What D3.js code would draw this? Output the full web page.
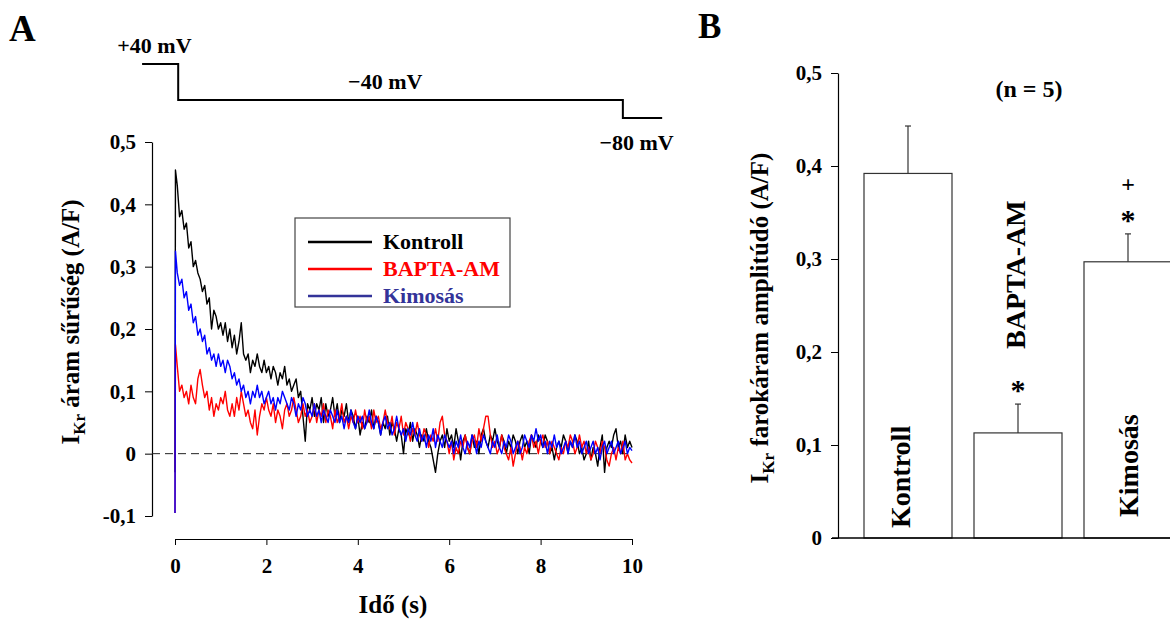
<!DOCTYPE html>
<html>
<head>
<meta charset="utf-8">
<script src="https://cdn.jsdelivr.net/npm/d3@7"></script>
<style>
  body { margin: 0; background: #fff; }
  text { font-family: "Liberation Serif", "Times New Roman", serif; font-weight: bold; }
</style>
</head>
<body>
<div id="chart"></div>
<script>
// ---- panel A : tail current traces (A/F), sampled every 0.05 s from 0.05 s to 10 s
const seriesNames = ["Kontroll", "BAPTA-AM", "Kimosás"];

// capacitive spike at t = 0 : minimum and first peak
const spikeMin = [-0.03, -0.095, -0.095];
const spikePeak = [0.455, 0.175, 0.325];

const kontroll = [
  0.43, 0.38, 0.39, 0.36, 0.37, 0.33, 0.34, 0.30, 0.31, 0.29, 0.28, 0.26, 0.27, 0.24, 0.25, 0.20, 0.23, 0.22, 0.20, 0.21,
  0.19, 0.21, 0.18, 0.20, 0.17, 0.19, 0.16, 0.18, 0.21, 0.16, 0.15, 0.16, 0.13, 0.15, 0.14, 0.16, 0.14, 0.13, 0.15, 0.13,
  0.14, 0.12, 0.14, 0.13, 0.11, 0.13, 0.12, 0.14, 0.11, 0.12, 0.10, 0.11, 0.12, 0.09, 0.10, 0.06, 0.02, 0.08, 0.07, 0.09,
  0.06, 0.08, 0.07, 0.09, 0.05, 0.08, 0.06, 0.07, 0.09, 0.06, 0.08, 0.05, 0.07, 0.06, 0.08, 0.05, 0.07, 0.06, 0.04, 0.06,
  0.03, 0.05, 0.04, 0.06, 0.05, 0.07, 0.04, 0.06, 0.05, 0.03, 0.05, 0.04, 0.06, 0.03, 0.05, 0.04, 0.02, 0.04, 0.03, 0.00,
  0.04, 0.03, 0.05, 0.02, 0.04, 0.03, 0.01, 0.03, 0.02, 0.04, 0.02, 0.01, -0.01, -0.03, 0.00, 0.02, 0.03, 0.01, 0.04, 0.02,
  0.03, 0.01, 0.04, 0.02, -0.01, 0.02, 0.03, 0.01, 0.00, 0.03, 0.01, 0.02, 0.00, 0.03, 0.04, 0.02, 0.01, 0.03, 0.02, 0.04,
  0.02, 0.01, 0.03, 0.02, 0.00, 0.02, 0.01, 0.03, 0.02, 0.00, 0.02, 0.03, 0.01, 0.02, 0.00, 0.03, 0.02, 0.01, 0.03, 0.02,
  0.01, 0.03, 0.02, 0.00, 0.01, -0.01, 0.01, 0.02, 0.01, 0.03, 0.02, 0.00, 0.02, 0.01, 0.03, 0.02, 0.00, 0.01, -0.01, 0.00,
  0.02, -0.01, 0.01, 0.00, -0.02, 0.01, 0.03, -0.03, 0.01, 0.02, 0.01, 0.03, 0.04, 0.01, 0.02, 0.00, 0.03, 0.01, 0.02, 0.01
];

const bapta = [
  0.14, 0.10, 0.11, 0.09, 0.10, 0.08, 0.11, 0.09, 0.08, 0.12, 0.135, 0.11, 0.09, 0.10, 0.07, 0.09, 0.06, 0.08, 0.07, 0.09,
  0.08, 0.10, 0.07, 0.06, 0.08, 0.06, 0.09, 0.07, 0.10, 0.08, 0.06, 0.07, 0.05, 0.04, 0.07, 0.03, 0.06, 0.08, 0.07, 0.09,
  0.07, 0.06, 0.08, 0.05, 0.07, 0.06, 0.04, 0.07, 0.08, 0.06, 0.07, 0.09, 0.07, 0.05, 0.06, 0.08, 0.06, 0.07, 0.05, 0.06,
  0.08, 0.05, 0.07, 0.06, 0.08, 0.05, 0.07, 0.06, 0.04, 0.07, 0.05, 0.06, 0.08, 0.05, 0.06, 0.04, 0.06, 0.05, 0.07, 0.05,
  0.06, 0.04, 0.07, 0.05, 0.06, 0.04, 0.07, 0.05, 0.06, 0.04, 0.05, 0.07, 0.05, 0.04, 0.06, 0.03, 0.05, 0.04, 0.06, 0.03,
  0.05, 0.04, 0.02, 0.04, 0.03, 0.05, 0.03, 0.02, 0.04, 0.03, 0.01, 0.03, 0.02, 0.04, 0.02, 0.05, 0.06, 0.03, 0.02, 0.00,
  0.02, -0.01, 0.01, 0.00, 0.02, 0.01, 0.03, 0.01, 0.00, 0.02, 0.03, 0.01, 0.04, 0.02, 0.04, 0.06, 0.06, 0.03, 0.01, 0.02,
  0.00, 0.01, 0.03, 0.01, 0.00, -0.01, 0.01, -0.02, 0.00, 0.02, 0.01, -0.01, 0.01, 0.00, 0.02, 0.03, 0.01, 0.02, 0.00, 0.02,
  0.03, 0.01, 0.02, 0.00, 0.02, 0.01, 0.00, -0.01, 0.01, 0.00, 0.02, 0.01, 0.03, 0.02, 0.00, 0.01, 0.03, 0.01, 0.02, 0.00,
  0.01, -0.01, 0.00, 0.02, 0.01, 0.00, 0.02, 0.01, -0.01, -0.02, 0.00, 0.01, -0.01, 0.01, 0.00, 0.02, -0.01, 0.00, -0.01, -0.015
];

const kimosas = [
  0.29, 0.27, 0.28, 0.25, 0.26, 0.23, 0.24, 0.21, 0.22, 0.19, 0.20, 0.18, 0.19, 0.16, 0.17, 0.15, 0.16, 0.14, 0.16, 0.14,
  0.15, 0.13, 0.15, 0.14, 0.12, 0.13, 0.11, 0.12, 0.10, 0.11, 0.09, 0.10, 0.08, 0.10, 0.09, 0.11, 0.09, 0.10, 0.08, 0.09,
  0.10, 0.08, 0.09, 0.07, 0.09, 0.08, 0.10, 0.09, 0.08, 0.07, 0.09, 0.08, 0.06, 0.08, 0.07, 0.09, 0.08, 0.06, 0.07, 0.06,
  0.08, 0.06, 0.07, 0.05, 0.07, 0.06, 0.05, 0.07, 0.06, 0.05, 0.07, 0.05, 0.06, 0.04, 0.06, 0.05, 0.07, 0.05, 0.04, 0.06,
  0.05, 0.06, 0.04, 0.05, 0.07, 0.05, 0.04, 0.06, 0.05, 0.03, 0.05, 0.06, 0.04, 0.05, 0.03, 0.04, 0.06, 0.04, 0.03, 0.04,
  0.02, 0.04, 0.03, 0.05, 0.03, 0.02, 0.04, 0.02, 0.03, 0.01, 0.03, 0.02, 0.04, 0.01, 0.03, 0.02, 0.01, 0.03, 0.02, 0.01,
  0.02, 0.00, 0.02, 0.01, 0.03, 0.01, 0.00, 0.02, 0.01, 0.03, 0.02, 0.00, 0.02, 0.01, 0.03, 0.02, 0.01, 0.00, 0.02, 0.01,
  0.03, 0.01, 0.00, 0.02, 0.01, 0.03, 0.02, 0.00, 0.01, 0.02, 0.00, 0.01, 0.03, 0.02, 0.01, 0.03, 0.02, 0.04, 0.02, 0.03,
  0.01, 0.02, 0.00, 0.02, 0.01, 0.03, 0.01, 0.02, 0.00, 0.01, 0.02, 0.00, 0.02, 0.01, 0.03, 0.01, 0.02, 0.00, 0.01, 0.02,
  0.00, 0.01, 0.02, 0.00, 0.01, -0.01, 0.01, 0.02, 0.00, 0.01, 0.02, 0.00, 0.01, 0.02, 0.00, 0.01, 0.02, 0.00, 0.01, 0.005
];

const traceColors = ["#000000", "#ff0000", "#0000ff"];
const legendColors = ["#000000", "#ff0000", "#333399"];

// voltage protocol (s, mV)
const protocolT = [-0.72, 0.07, 9.8, 10.66];
const protocolV = [40, -40, -80];
const protocolLabels = ["+40 mV", "\u221240 mV", "\u221280 mV"];

const yTicksA = [-0.1, 0, 0.1, 0.2, 0.3, 0.4, 0.5];
const xTicksA = [0, 2, 4, 6, 8, 10];

// ---- panel B : tail current amplitude (A/F), mean and SEM
const groups = ["Kontroll", "BAPTA-AM", "Kimosás"];
const means = [0.392, 0.113, 0.297];
const sems = [0.051, 0.031, 0.030];
const marks = [[], ["*"], ["*", "+"]];
const yTicksB = [0, 0.1, 0.2, 0.3, 0.4, 0.5];

const W = 1170, H = 621;
const svg = d3.select("#chart").append("svg")
    .attr("width", W)
    .attr("height", H);

svg.append("rect").attr("width", W).attr("height", H).attr("fill", "#fff");

const comma = d => d === 0 ? "0" : (d < 0 ? "-" : "") + d3.format(".1f")(Math.abs(d)).replace(".", ",");

function styleTicks(g, size) {
    g.selectAll("text").attr("font-size", size).attr("fill", "#000")
        .attr("font-family", "Liberation Serif").attr("font-weight", "bold");
    g.selectAll(".domain").attr("stroke-width", 1.2);
}

// ================= panel A =================
const x = d3.scaleLinear().domain([0, 10]).range([175, 632]);
const y = d3.scaleLinear().domain([-0.1, 0.5]).range([516, 142]);
const v = d3.scaleLinear().domain([-80, 40]).range([118, 64]);

svg.append("text").attr("x", 9).attr("y", 41).attr("font-size", 37).text("A");

// protocol
const protoPts = protocolV.map((d, i) => [protocolT[i], d]);
protoPts.push([protocolT[3], protocolV[2]]);
svg.append("path")
    .attr("d", d3.line().x(d => x(d[0])).y(d => v(d[1])).curve(d3.curveStepAfter)(protoPts))
    .attr("fill", "none")
    .attr("stroke", "#000")
    .attr("stroke-width", 2);

const protoLabelPos = [[-0.45, 40, -11], [4.6, -40, -11], [10.1, -80, 32]];
svg.selectAll(".plab").data(protocolLabels).join("text")
    .attr("class", "plab")
    .attr("x", (d, i) => x(protoLabelPos[i][0]))
    .attr("y", (d, i) => v(protoLabelPos[i][1]) + protoLabelPos[i][2])
    .attr("text-anchor", "middle")
    .attr("font-size", 22)
    .text(d => d);

// y axis
const yAxisA = svg.append("g")
    .attr("transform", "translate(152,0)")
    .call(d3.axisLeft(y).tickValues(yTicksA).tickFormat(comma).tickSize(7).tickSizeOuter(0).tickPadding(9));
styleTicks(yAxisA, 21);

// x axis
const xAxisA = svg.append("g")
    .attr("transform", "translate(0,539)");
xAxisA.call(d3.axisBottom(x).tickValues(d3.range(1, 10, 2)).tickSize(3).tickFormat(""));
xAxisA.call(d3.axisBottom(x).tickValues(xTicksA).tickSize(6).tickSizeOuter(0).tickPadding(13));
styleTicks(xAxisA, 21);

// zero line
svg.append("line")
    .attr("x1", 152).attr("x2", x(10))
    .attr("y1", y(0)).attr("y2", y(0))
    .attr("stroke", "#222")
    .attr("stroke-dasharray", "8,5");

// traces
const series = [kontroll, bapta, kimosas];
const line = d3.line().x(d => x(d[0])).y(d => y(d[1]));
series.forEach((vals, s) => {
    const n = vals.length;
    const pts = [[0, spikeMin[s]], [0.01, spikePeak[s]]]
        .concat(vals.map((d, i) => [0.05 + i * (9.95 / (n - 1)), d]));
    svg.append("path")
        .attr("d", line(pts))
        .attr("fill", "none")
        .attr("stroke", traceColors[s])
        .attr("stroke-width", 1.4)
        .attr("stroke-linejoin", "round");
});

// legend
const lg = svg.append("g");
lg.append("rect")
    .attr("x", 295).attr("y", 218).attr("width", 215).attr("height", 89)
    .attr("fill", "#fff").attr("stroke", "#444").attr("stroke-width", 1.2);
seriesNames.forEach((name, i) => {
    const ly = 242 + i * 27;
    lg.append("line").attr("x1", 308).attr("x2", 372).attr("y1", ly).attr("y2", ly)
        .attr("stroke", legendColors[i]).attr("stroke-width", 2.5);
    lg.append("text").attr("x", 383).attr("y", ly + 7).attr("font-size", 22)
        .attr("fill", legendColors[i]).text(name);
});

// axis titles
svg.append("text")
    .attr("x", 393).attr("y", 613)
    .attr("text-anchor", "middle").attr("font-size", 25)
    .text("Idő (s)");

const ylabA = svg.append("text")
    .attr("transform", "translate(79,322) rotate(-90)")
    .attr("text-anchor", "middle").attr("font-size", 25);
ylabA.append("tspan").text("I");
ylabA.append("tspan").attr("font-size", 17).attr("dy", 6).text("Kr");
ylabA.append("tspan").attr("dy", -6).text(" áram sűrűség (A/F)");

// ================= panel B =================
const yb = d3.scaleLinear().domain([0, 0.5]).range([538, 73]);
const xb = d3.scaleBand().domain(groups).range([853, 1183]).paddingInner(0.2).paddingOuter(0.1);

svg.append("text").attr("x", 698).attr("y", 38).attr("font-size", 35).text("B");

const yAxisB = svg.append("g")
    .attr("transform", "translate(838,0)")
    .call(d3.axisLeft(yb).tickValues(yTicksB).tickFormat(comma).tickSize(7).tickSizeOuter(0).tickPadding(9));
styleTicks(yAxisB, 21);

// bars
svg.selectAll(".bar").data(groups).join("rect")
    .attr("class", "bar")
    .attr("x", d => xb(d))
    .attr("y", (d, i) => yb(means[i]))
    .attr("width", xb.bandwidth())
    .attr("height", (d, i) => yb(0) - yb(means[i]))
    .attr("fill", "#fff")
    .attr("stroke", "#333")
    .attr("stroke-width", 1.2);

// error bars and significance marks
groups.forEach((g, i) => {
    const cx = xb(g) + xb.bandwidth() / 2;
    const top = yb(means[i] + sems[i]);
    svg.append("line").attr("x1", cx).attr("x2", cx)
        .attr("y1", yb(means[i])).attr("y2", top)
        .attr("stroke", "#333").attr("stroke-width", 1.2);
    svg.append("line").attr("x1", cx - 3).attr("x2", cx + 3)
        .attr("y1", top).attr("y2", top)
        .attr("stroke", "#333").attr("stroke-width", 1.2);
    marks[i].forEach(m => {
        svg.append("text")
            .attr("x", cx)
            .attr("y", m === "*" ? top - 4 : top - 42)
            .attr("text-anchor", "middle")
            .attr("font-size", m === "*" ? 30 : 24)
            .attr("font-weight", m === "*" ? "bold" : "normal")
            .text(m);
    });
});

// baseline
svg.append("line").attr("x1", 832).attr("x2", W).attr("y1", yb(0)).attr("y2", yb(0))
    .attr("stroke", "#000").attr("stroke-width", 1.5);

// bar labels
const labelStart = [528, 349, 517];
const labelDx = [2, 7, 10];
svg.selectAll(".blab").data(groups).join("text")
    .attr("class", "blab")
    .attr("transform", (d, i) => `translate(${xb(d) + xb.bandwidth() / 2 + labelDx[i]},${labelStart[i]}) rotate(-90)`)
    .attr("font-size", 28)
    .text(d => d);

svg.append("text")
    .attr("x", 1029).attr("y", 97)
    .attr("text-anchor", "middle").attr("font-size", 24)
    .text("(n = 5)");

const ylabB = svg.append("text")
    .attr("transform", "translate(768,318) rotate(-90)")
    .attr("text-anchor", "middle").attr("font-size", 25);
ylabB.append("tspan").text("I");
ylabB.append("tspan").attr("font-size", 17).attr("dy", 6).text("Kr");
ylabB.append("tspan").attr("dy", -6).text(" farokáram amplitúdó (A/F)");
</script>
</body>
</html>
